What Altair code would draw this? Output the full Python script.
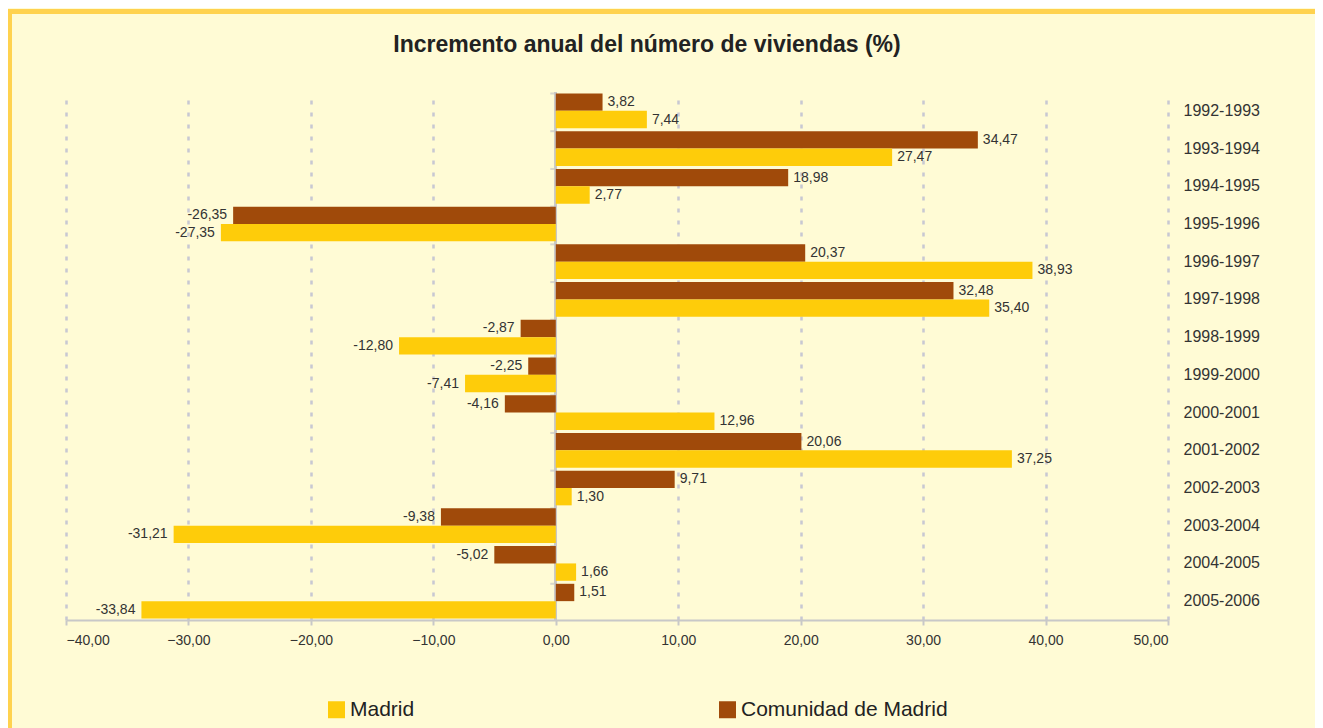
import altair as alt
import pandas as pd

years = ["1992-1993", "1993-1994", "1994-1995", "1995-1996", "1996-1997", "1997-1998",
         "1998-1999", "1999-2000", "2000-2001", "2001-2002", "2002-2003", "2003-2004",
         "2004-2005", "2005-2006"]
comunidad = [3.82, 34.47, 18.98, -26.35, 20.37, 32.48, -2.87, -2.25, -4.16, 20.06, 9.71, -9.38, -5.02, 1.51]
madrid = [7.44, 27.47, 2.77, -27.35, 38.93, 35.40, -12.80, -7.41, 12.96, 37.25, 1.30, -31.21, 1.66, -33.84]
series = ["Madrid", "Comunidad de Madrid"]
colors = ["#FECC0A", "#A04A0A"]
x_ticks = [-40, -30, -20, -10, 0, 10, 20, 30, 40, 50]
title_text = "Incremento anual del número de viviendas (%)"

rows = []
for i, y in enumerate(years):
    rows.append({"periodo": y, "serie": "Comunidad de Madrid", "valor": comunidad[i]})
    rows.append({"periodo": y, "serie": "Madrid", "valor": madrid[i]})
df = pd.DataFrame(rows)
df["etiqueta"] = df["valor"].map(lambda v: f"{v:.2f}".replace(".", ","))
ydf = pd.DataFrame({"periodo": years})

W, H = 1102, 528
FONT = "Liberation Sans"
GRAY = "#C8C8C8"
GOLD = "#FFD24F"

yscale = alt.Scale(domain=years, paddingInner=0.08, paddingOuter=0.04)
offsort = ["Comunidad de Madrid", "Madrid"]
offscale = alt.Scale(paddingInner=0, paddingOuter=0)
xscale = alt.Scale(domain=[-40, 50], nice=False, zero=False)

base = alt.Chart(df)

bars = base.mark_bar(cornerRadius=0).encode(
    x=alt.X("valor:Q", scale=xscale,
            axis=alt.Axis(values=x_ticks, title=None,
                          labelExpr="replace(format(datum.value, '.2f'), '.', ',')",
                          labelFontSize=14, labelColor="#333333", labelPadding=8, labelFont=FONT,
                          domainColor=GRAY, domainWidth=2,
                          tickColor=GRAY, tickSize=5, tickWidth=2,
                          grid=True, gridColor="#C8C8D2", gridWidth=2.5, gridDash=[4, 8],
                          gridOpacity={"condition": {"test": "datum.value === 0", "value": 0}, "value": 1})),
    y=alt.Y("periodo:N", scale=yscale, sort=years,
            axis=alt.Axis(orient="right", domain=False, ticks=False, title=None, labelFont=FONT,
                          labelFontSize=16, labelColor="#333333", labelPadding=15, grid=False)),
    yOffset=alt.YOffset("serie:N", sort=offsort, scale=offscale),
    color=alt.Color("serie:N", scale=alt.Scale(domain=series, range=colors),
                    legend=alt.Legend(title=None, orient="none", legendX=260, legendY=607,
                                      direction="horizontal", symbolType="square",
                                      symbolSize=289, symbolStrokeWidth=0,
                                      labelFontSize=21, labelColor="#222222", labelOffset=3,
                                      labelLimit=500, columnPadding=302,
                                      labelFont=FONT, padding=0)),
)

zero_line = alt.Chart(ydf).mark_rule(color=GRAY, strokeWidth=2).encode(x=alt.datum(0))

zero_ticks = alt.Chart(ydf).mark_tick(
    orient="horizontal", color=GRAY, size=5, thickness=2, xOffset=-3
).encode(
    x=alt.datum(0),
    y=alt.Y("periodo:N", scale=yscale, sort=years, bandPosition=0),
)

pos = base.transform_filter("datum.valor >= 0").mark_text(
    align="left", baseline="middle", dx=5, fontSize=14, color="#333333", font=FONT
).encode(
    x=alt.X("valor:Q", scale=xscale),
    y=alt.Y("periodo:N", scale=yscale, sort=years),
    yOffset=alt.YOffset("serie:N", sort=offsort, scale=offscale),
    text="etiqueta:N",
)

neg = base.transform_filter("datum.valor < 0").mark_text(
    align="right", baseline="middle", dx=-6, fontSize=14, color="#333333", font=FONT
).encode(
    x=alt.X("valor:Q", scale=xscale),
    y=alt.Y("periodo:N", scale=yscale, sort=years),
    yOffset=alt.YOffset("serie:N", sort=offsort, scale=offscale),
    text="etiqueta:N",
)

tdf = pd.DataFrame({"t": [title_text]})
title = alt.Chart(tdf).mark_text(
    fontSize=23, fontWeight="bold", color="#222222", font=FONT, align="center", baseline="middle"
).encode(text="t:N", x=alt.value(581), y=alt.value(-47))

border_top = alt.Chart(tdf).mark_rule(color=GOLD, strokeWidth=5).encode(
    x=alt.value(-59), x2=alt.value(1400), y=alt.value(-80.5))
border_left = alt.Chart(tdf).mark_rule(color=GOLD, strokeWidth=5).encode(
    x=alt.value(-56.5), y=alt.value(-83), y2=alt.value(900))

chart = alt.layer(border_top, border_left, zero_line, zero_ticks, bars, pos, neg, title).properties(
    width=W, height=H,
    autosize=alt.AutoSizeParams(type="none"),
    padding={"left": 58, "top": 84, "right": 147, "bottom": 108},
    background="#FFFBD5",
).configure(font=FONT).configure_view(strokeWidth=0, stroke="transparent")

chart.save("out.html", embed_options={"renderer": "svg", "actions": False})
